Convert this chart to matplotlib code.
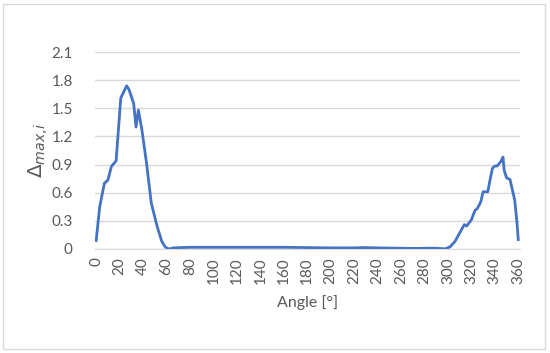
import matplotlib
matplotlib.use("Agg")
import matplotlib.pyplot as plt
from matplotlib.patches import Rectangle

angles = [0, 3, 7, 10, 13, 17, 21, 26, 28, 32, 34, 36, 39, 43, 47, 52, 56, 59, 62,
          66, 72, 80, 100, 120, 140, 160, 180, 200, 220, 228, 240, 260, 270, 280,
          290, 294, 298, 302, 306, 310, 314, 316, 320, 323, 325, 328, 330, 334,
          336, 338, 340, 342, 345, 347, 348, 350, 353, 355, 357, 359, 360]
delta = [0.09, 0.45, 0.70, 0.735, 0.88, 0.94, 1.61, 1.74, 1.70, 1.55, 1.30, 1.48,
         1.27, 0.91, 0.49, 0.24, 0.08, 0.02, 0.0,
         0.012, 0.015, 0.018, 0.018, 0.018, 0.018, 0.018, 0.015, 0.012, 0.012, 0.015,
         0.012, 0.008, 0.006, 0.008, 0.008, 0.005, 0.002, 0.025, 0.08, 0.17, 0.26,
         0.245, 0.31, 0.41, 0.43, 0.50, 0.61, 0.61, 0.74, 0.86, 0.885, 0.885, 0.93,
         0.98, 0.84, 0.76, 0.74, 0.63, 0.52, 0.27, 0.10]
xticks = list(range(0, 361, 20))
yticks = [0, 0.3, 0.6, 0.9, 1.2, 1.5, 1.8, 2.1]

plt.rcParams['font.family'] = ['Lato', 'DejaVu Sans']
txt = '#595959'

fig = plt.figure(figsize=(5.5, 3.53), dpi=100)
fig.patches.append(Rectangle((3/550, 4/353), 542/550, 345/353, transform=fig.transFigure,
                             fill=False, edgecolor='#d9d9d9', linewidth=1))
ax = fig.add_axes([95/550, 1 - 249/353, 425/550, 197/353])
ax.plot(angles, delta, color='#4472C4', linewidth=2, solid_joinstyle='round')
ax.set_xlim(-1, 361.5)
ax.set_ylim(0, 2.1)
ax.set_xticks(xticks)
ax.set_xticklabels([str(t) for t in xticks], rotation=90, fontsize=11, color=txt)
ax.set_yticks(yticks)
ax.set_yticklabels(['0' if t == 0 else f'{t:.1f}' for t in yticks], fontsize=11, color=txt)
ax.tick_params(length=0, pad=6)
ax.tick_params(axis='y', pad=16)
ax.grid(axis='y', color='#d9d9d9', linewidth=1)
ax.set_axisbelow(True)
for s in ['top', 'right', 'left']:
    ax.spines[s].set_visible(False)
ax.spines['bottom'].set_color('#d9d9d9')
ax.set_xlabel('Angle [°]', fontsize=11.5, color=txt, labelpad=8)
ax.set_ylabel(r'$\Delta_{max{,}i}$', fontsize=14.5, color=txt, labelpad=1)
fig.savefig('out.png', dpi=100)
